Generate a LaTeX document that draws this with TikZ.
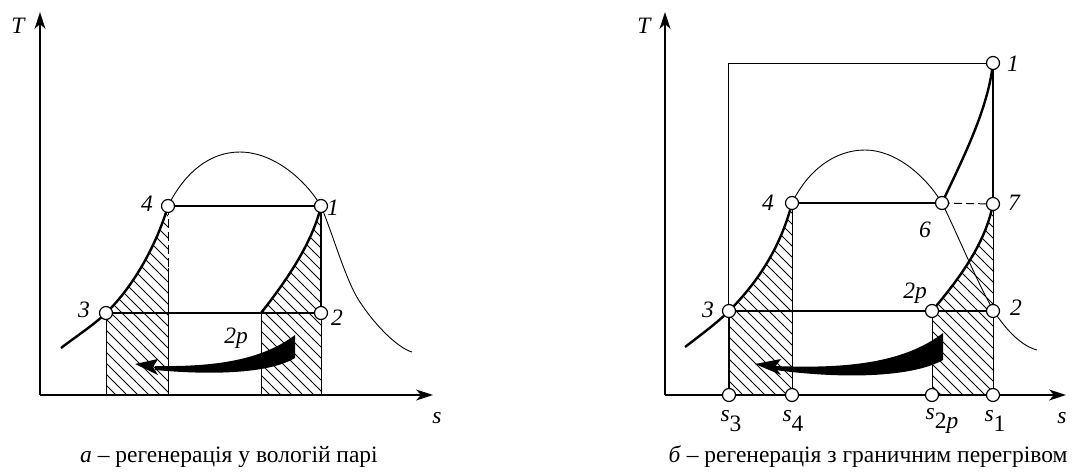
\documentclass[tikz,border=0pt]{standalone}
\usepackage{fontspec}
\setmainfont{Liberation Serif}
\usetikzlibrary{arrows.meta}
\newcommand\hatchfill[1]{\begin{scope}\clip #1;
  \foreach \k in {-300,-289,...,1100} \draw[hatchline] (\k,100) -- (\k+400,500);
  \end{scope}}
\newcommand\sub[2]{\textit{#1}\raisebox{-0.42em}{#2}}
\begin{document}
\begin{tikzpicture}[x=1pt,y=-1pt,
  ptc/.style={circle,draw,fill=white,line width=1.2pt,minimum size=13pt,inner sep=0pt},
  axisline/.style={line width=1.4pt,-{Stealth[length=17pt,width=11pt,inset=5pt]}},
  fine/.style={line width=1pt},
  heavy/.style={line width=2.4pt},
  mid/.style={line width=1.8pt},
  dome/.style={line width=0.9pt},
  hatchline/.style={line width=0.8pt},
  lbl/.style={font=\itshape\fontsize{23.5}{24}\selectfont,inner sep=0pt},
  captxt/.style={font=\fontsize{23.5}{24}\selectfont,inner sep=0pt},
  flow/.style={fill=black,draw=none}]
\useasboundingbox (0,0) rectangle (1076,475);

% ================= LEFT DIAGRAM =================
\coordinate (o1) at (40,395);
\coordinate (ty1) at (40,12);
\coordinate (sx1) at (433,395);
\coordinate (a1) at (321,206);
\coordinate (a2) at (321,313);
\coordinate (a3) at (106,313);
\coordinate (a4) at (168,206);
\coordinate (a2p) at (261,313);
\coordinate (a1b) at (321,395);
\coordinate (a3b) at (106,395);
\coordinate (a4b) at (168,395);
\coordinate (a2pb) at (261,395);
\coordinate (a4d) at (168,268);

% hatching
\hatchfill{(a3b) -- (a3) .. controls (130,290) and (155,250) .. (a4) -- (a4b) -- cycle}
\hatchfill{(a2pb) -- (a2p) .. controls (283,285) and (312,245) .. (a1) -- (a1b) -- cycle}

% verticals
\draw[fine] (a3) -- (a3b);
\draw[fine] (a2p) -- (a2pb);
\draw[fine] (a2) -- (a1b);
\draw[fine,dash pattern=on 9pt off 4pt] (a4) -- (a4d);
\draw[fine] (a4d) -- (a4b);

% saturation dome
\draw[dome] (a4) .. controls (185,172) and (210,152) .. (240,152)
  .. controls (270,152) and (302,175) .. (a1)
  .. controls (335,240) and (347,285) .. (362,305)
  .. controls (376,326) and (398,348) .. (412,352);

% process lines
\draw[heavy] (61,348) .. controls (78,335) and (95,324) .. (a3)
  .. controls (130,290) and (155,250) .. (a4);
\draw[heavy] (a4) -- (a1);
\draw[mid] (a3) -- (a2);
\draw[heavy] (a2p) .. controls (283,285) and (312,245) .. (a1);
\draw[mid] (a1) -- (a2);

% flow arrow
\fill[flow] (295,335) .. controls (262,360) and (215,367) .. (155,366)
  -- (155,370) .. controls (220,376) and (272,372) .. (295,358) -- cycle;
\fill[flow] (135,364) -- (158,359) -- (153,367) -- (158,375) -- cycle;

% axes
\draw[axisline] (o1) -- (ty1);
\draw[axisline] (o1) -- (sx1);

% points
\node[ptc] (A1) at (a1) {};
\node[ptc] (A2) at (a2) {};
\node[ptc] (A3) at (a3) {};
\node[ptc] (A4) at (a4) {};

% labels
\node[lbl] (LT1) at (18,26) {T};
\node[lbl] (Ls1) at (437,418) {s};
\node[lbl] (L4) at (147,204) {4};
\node[lbl] (L1) at (333,208) {1};
\node[lbl] (L3) at (84,310) {3};
\node[lbl] (L2) at (337,318) {2};
\node[lbl] (L2p) at (236,338) {2p};

\node[captxt] (CapA) at (229,457) {\textit{а} – регенерація у вологій парі};

% ================= RIGHT DIAGRAM =================
\coordinate (o2) at (665,395);
\coordinate (ty2) at (665,12);
\coordinate (sx2) at (1066,395);
\coordinate (tl) at (728,63);
\coordinate (tlb) at (728,395);
\coordinate (c1) at (993,63);
\coordinate (c7) at (993,204);
\coordinate (c6) at (942,203);
\coordinate (c4) at (792,203);
\coordinate (c3) at (729,311);
\coordinate (c2p) at (932,311);
\coordinate (c2) at (993,311);
\coordinate (cs3) at (729,395);
\coordinate (cs4) at (792,395);
\coordinate (cs2p) at (932,395);
\coordinate (cs1) at (993,395);

% hatching
\hatchfill{(cs3) -- (c3) .. controls (755,285) and (780,250) .. (c4) -- (cs4) -- cycle}
\hatchfill{(cs2p) -- (c2p) .. controls (958,280) and (985,245) .. (c7) -- (cs1) -- cycle}

% frame lines
\draw[fine] (tlb) -- (tl) -- (c1);
\draw[fine] (c3) -- (cs3);
\draw[fine] (c4) -- (cs4);
\draw[fine] (c2p) -- (cs2p);
\draw[fine] (c7) -- (cs1);
\draw[fine,dash pattern=on 8pt off 4pt] (c6) -- (c7);

% saturation dome
\draw[dome] (c4) .. controls (808,170) and (835,150) .. (865,150)
  .. controls (895,150) and (925,175) .. (c6)
  .. controls (958,235) and (978,285) .. (995,313)
  .. controls (1008,332) and (1022,346) .. (1037,350);

% process lines
\draw[heavy] (685,347) .. controls (702,334) and (718,322) .. (c3)
  .. controls (755,285) and (780,250) .. (c4);
\draw[heavy] (c4) -- (c6);
\draw[heavy] (c6) .. controls (962,160) and (988,110) .. (c1);
\draw[heavy] (c1) -- (c7);
\draw[mid] (c3) -- (c2);
\draw[heavy] (c2p) .. controls (958,280) and (985,245) .. (c7);

% flow arrow
\fill[flow] (943,333) .. controls (905,362) and (850,369) .. (775,366)
  -- (775,370) .. controls (850,380) and (915,376) .. (943,360) -- cycle;
\fill[flow] (755,364) -- (781,359) -- (775,367) -- (781,375) -- cycle;

% axes
\draw[axisline] (o2) -- (ty2);
\draw[axisline] (o2) -- (sx2);

% points
\node[ptc] (C1) at (c1) {};
\node[ptc] (C7) at (c7) {};
\node[ptc] (C6) at (c6) {};
\node[ptc] (C4) at (c4) {};
\node[ptc] (C3) at (c3) {};
\node[ptc] (C2p) at (c2p) {};
\node[ptc] (C2) at (c2) {};
\node[ptc] (S3) at (cs3) {};
\node[ptc] (S4) at (cs4) {};
\node[ptc] (S2p) at (cs2p) {};
\node[ptc] (S1) at (cs1) {};

% labels
\node[lbl] (RT) at (644,26) {T};
\node[lbl] (Rs) at (1062,418) {s};
\node[lbl] (R1) at (1013,64) {1};
\node[lbl] (R7) at (1014,203) {7};
\node[lbl] (R6) at (925,230) {6};
\node[lbl] (R4) at (768,203) {4};
\node[lbl] (R3) at (708,310) {3};
\node[lbl] (R2p) at (915,293) {2p};
\node[lbl] (R2) at (1016,308) {2};
\node[lbl,font=\fontsize{23.5}{24}\selectfont] (Rs3) at (731,421) {\sub{s}{3}};
\node[lbl,font=\fontsize{23.5}{24}\selectfont] (Rs4) at (793,421) {\sub{s}{4}};
\node[lbl,font=\fontsize{23.5}{24}\selectfont] (Rs2p) at (942,421) {\sub{s}{2\textit{p}}};
\node[lbl,font=\fontsize{23.5}{24}\selectfont] (Rs1) at (995,421) {\sub{s}{1}};

\node[captxt] (CapB) at (868,457) {\textit{б} – регенерація з граничним перегрівом};
\end{tikzpicture}
\end{document}
